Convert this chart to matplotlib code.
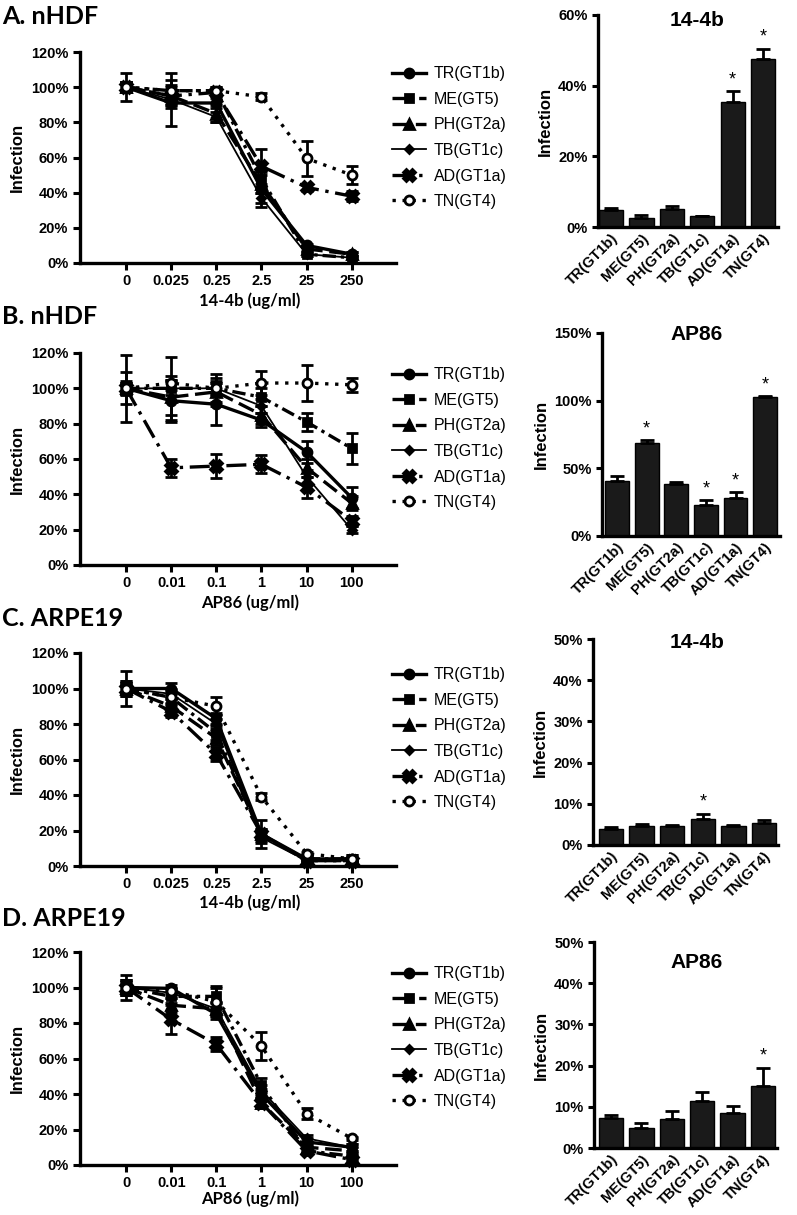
import matplotlib
matplotlib.use("Agg")
import matplotlib.pyplot as plt
from matplotlib.lines import Line2D
import numpy as np

# ---------------- data ----------------
strains = ['TR(GT1b)', 'ME(GT5)', 'PH(GT2a)', 'TB(GT1c)', 'AD(GT1a)', 'TN(GT4)']
conc_144b = ['0', '0.025', '0.25', '2.5', '25', '250']
conc_ap86 = ['0', '0.01', '0.1', '1', '10', '100']

# Panel A: nHDF, 14-4b (rows = strains, cols = concentrations)
lineA_vals = [[100, 91, 91, 42, 10, 5],
              [100, 98, 98, 48, 5, 3],
              [100, 95, 85, 45, 8, 5],
              [100, 93, 83, 37, 5, 3],
              [100, 95, 97, 55, 43, 38],
              [100, 98, 98, 94.5, 59.5, 50]]
lineA_errs = [[3, 13, 3, 10, 1, 1],
              [8, 10, 2, 5, 1, 1],
              [3, 5, 5, 5, 1, 1],
              [3, 3, 3, 3, 1, 1],
              [3, 3, 2, 10, 2, 3],
              [3, 3, 2, 2, 10, 5]]
barA_vals = [4.7, 2.6, 5.1, 3.0, 35.5, 47.5]
barA_errs = [0.8, 0.7, 0.9, 0.2, 3.0, 3.0]
barA_star = [False, False, False, False, True, True]

# Panel B: nHDF, AP86
lineB_vals = [[100, 93, 91, 82, 64, 38],
              [100, 100, 100, 95, 81, 66],
              [100, 95, 98, 85, 55, 35],
              [100, 100, 100, 90, 50, 20],
              [100, 55, 56, 57, 44, 25],
              [100, 103, 100, 103, 103, 102]]
lineB_errs = [[3, 12, 12, 4, 6, 6],
              [9, 18, 8, 5, 5, 9],
              [4, 10, 8, 5, 5, 4],
              [3, 4, 4, 4, 4, 2],
              [19, 5, 7, 5, 6, 3],
              [3, 4, 3, 7, 10, 4]]
barB_vals = [41.0, 68.5, 38.5, 23.0, 28.0, 103.0]
barB_errs = [3.5, 2.5, 1.5, 3.5, 4.5, 0.5]
barB_star = [False, True, False, True, True, True]

# Panel C: ARPE19, 14-4b
lineC_vals = [[100, 100, 83, 18, 4, 4],
              [100, 95, 75, 17, 4, 4],
              [100, 90, 72, 18, 3, 3],
              [100, 97, 80, 16, 3, 3],
              [100, 87, 63, 18, 3, 3],
              [100, 95, 90, 39, 7, 4]]
lineC_errs = [[3, 3, 3, 3, 1, 2],
              [10, 4, 4, 3, 1, 2],
              [4, 4, 4, 3, 1, 1],
              [3, 3, 3, 3, 1, 1],
              [4, 3, 4, 8, 1, 1],
              [3, 3, 5, 2, 1, 1]]
barC_vals = [4.0, 4.7, 4.7, 6.4, 4.5, 5.3]
barC_errs = [0.3, 0.3, 0.2, 1.2, 0.3, 0.7]
barC_star = [False, False, False, True, False, False]

# Panel D: ARPE19, AP86
lineD_vals = [[100, 99.5, 85, 40, 13, 10],
              [100, 95, 95, 45, 8, 5],
              [100, 90, 88, 35, 10, 8],
              [100, 97, 88, 42, 15, 10],
              [100, 82, 68, 35, 8, 3],
              [100, 98, 92, 67, 29, 15]]
lineD_errs = [[4, 2, 3, 3, 2, 2],
              [7, 4, 6, 4, 2, 2],
              [4, 4, 4, 3, 2, 2],
              [3, 3, 3, 3, 2, 2],
              [4, 8, 4, 3, 2, 1],
              [3, 2, 8, 8, 3, 1]]
barD_vals = [7.4, 4.8, 7.0, 11.3, 8.6, 15.0]
barD_errs = [0.6, 1.2, 1.9, 2.3, 1.6, 4.5]
barD_star = [False, False, False, False, False, True]

# ---------------- styles ----------------
series_styles = [
    dict(ls='-', marker='o', mfc='black', lw=2.4, ms=6.5),
    dict(ls=(0, (4, 1.5, 1, 1.5)), marker='s', mfc='black', lw=2.4, ms=6),
    dict(ls=(0, (5, 2)), marker='^', mfc='black', lw=2.4, ms=7),
    dict(ls='-', marker='D', mfc='black', lw=1.3, ms=4),
    dict(ls=(0, (6, 2, 1, 2)), marker='X', mfc='black', lw=2.4, ms=8),
    dict(ls=(0, (1, 2)), marker='o', mfc='white', lw=2.4, ms=6.5),
]

W, H = 797, 1215
fig = plt.figure(figsize=(W / 100, H / 100), dpi=100)
TICKFONT = 'Liberation Sans'
TITLEFONT = 'Lato'


def ax_px(l, t, r, b):
    return fig.add_axes([l / W, 1 - b / H, (r - l) / W, (b - t) / H])


def style_axes(ax):
    for s in ['top', 'right']:
        ax.spines[s].set_visible(False)
    for s in ['left', 'bottom']:
        ax.spines[s].set_linewidth(2.4)
    ax.tick_params(axis='both', direction='out', width=2.2, length=5,
                   labelsize=10.5)
    for lab in ax.get_xticklabels() + ax.get_yticklabels():
        lab.set_fontweight('bold')
        lab.set_fontfamily(TICKFONT)


def line_panel(box, vals, errs, conc, xlabel, xlabel_px, letter, letter_y):
    ax = ax_px(*box)
    x = np.arange(len(conc))
    for v, e, st in zip(vals, errs, series_styles):
        ax.errorbar(x, v, yerr=e, color='black', ls=st['ls'], lw=st['lw'],
                    marker=st['marker'], mfc=st['mfc'], mec='black', mew=2,
                    ms=st['ms'], elinewidth=2, capsize=4, capthick=2,
                    clip_on=False, zorder=3)
    ax.set_xlim(-1.02, 5.98)
    ax.set_ylim(0, 120)
    ax.set_yticks(np.arange(0, 121, 20))
    ax.set_yticklabels([f'{int(t)}%' for t in np.arange(0, 121, 20)])
    ax.set_xticks(x)
    ax.set_xticklabels(conc)
    style_axes(ax)
    ax.tick_params(axis='x', pad=3)
    ax.set_ylabel('Infection', fontsize=12, fontweight='bold',
                  family=TICKFONT, labelpad=4)
    fig.text(xlabel_px[0] / W, 1 - xlabel_px[1] / H, xlabel, ha='center',
             va='center', fontsize=12, fontweight='bold', family=TITLEFONT)
    fig.text(2 / W, 1 - letter_y / H, letter, ha='left', va='center',
             fontsize=18, fontweight='bold', family=TITLEFONT)
    # legend
    handles = [Line2D([0], [0], color='black', ls=st['ls'], lw=st['lw'],
                      marker=st['marker'], mfc=st['mfc'], mec='black',
                      mew=2, ms=st['ms']) for st in series_styles]
    fig.legend(handles, strains, loc='upper left',
               bbox_to_anchor=(378 / W, 1 - (box[1] + 0) / H),
               frameon=False, handlelength=2.1, handletextpad=0.5,
               labelspacing=0.66, prop=dict(family=TICKFONT, size=11.5))
    return ax


def bar_panel(box, xlim, vals, errs, stars, ymax, ystep, title, title_y):
    ax = ax_px(*box)
    x = np.arange(len(strains))
    ax.bar(x, vals, width=0.8, color='#1a1a1a', edgecolor='black', zorder=2)
    ax.errorbar(x, vals, yerr=[np.zeros(len(vals)), errs], fmt='none',
                ecolor='black', elinewidth=2, capsize=5, capthick=2, zorder=3)
    for xi, v, e, s in zip(x, vals, errs, stars):
        if s:
            ax.annotate('*', (xi, v + e), xytext=(0, 2),
                        textcoords='offset points', ha='center', va='bottom',
                        fontsize=13, family=TICKFONT)
    ax.set_xlim(*xlim)
    ax.set_ylim(0, ymax)
    ticks = np.arange(0, ymax + 0.1, ystep)
    ax.set_yticks(ticks)
    ax.set_yticklabels([f'{int(t)}%' for t in ticks])
    ax.set_xticks(x)
    ax.set_xticklabels(strains, rotation=45, ha='right',
                       rotation_mode='anchor')
    style_axes(ax)
    ax.tick_params(axis='x', length=0, pad=3, labelsize=10.5)
    ax.tick_params(axis='y', length=4)
    ax.set_ylabel('Infection', fontsize=12, fontweight='bold',
                  family=TICKFONT, labelpad=4)
    fig.text(697 / W, 1 - title_y / H, title, ha='center', va='center',
             fontsize=15, fontweight='bold', family=TICKFONT)
    return ax


line_panel((80, 52, 396, 263), lineA_vals, lineA_errs, conc_144b,
           '14-4b (ug/ml)', (250, 301), 'A. nHDF', 16)
line_panel((80, 353, 396, 565), lineB_vals, lineB_errs, conc_ap86,
           'AP86 (ug/ml)', (250, 603), 'B. nHDF', 316)
line_panel((80, 653, 396, 866), lineC_vals, lineC_errs, conc_144b,
           '14-4b (ug/ml)', (250, 903), 'C. ARPE19', 619)
line_panel((80, 952, 396, 1165), lineD_vals, lineD_errs, conc_ap86,
           'AP86 (ug/ml)', (250, 1199), 'D. ARPE19', 918)

bar_panel((598, 15, 778, 227), (-0.43, 5.49), barA_vals, barA_errs, barA_star,
          60, 20, '14-4b', 21)
bar_panel((602, 333, 780, 536), (-0.51, 5.5), barB_vals, barB_errs, barB_star,
          150, 50, 'AP86', 335)
bar_panel((593, 639, 778, 845), (-0.59, 5.46), barC_vals, barC_errs, barC_star,
          50, 10, '14-4b', 643)
bar_panel((594, 942, 777, 1148), (-0.56, 5.46), barD_vals, barD_errs,
          barD_star, 50, 10, 'AP86', 962)

fig.savefig('out.png', dpi=100)
